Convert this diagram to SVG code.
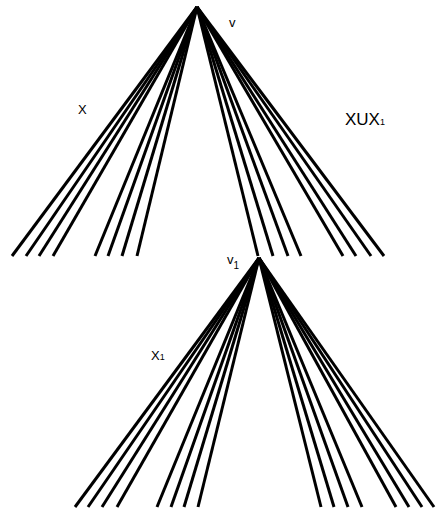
<svg xmlns="http://www.w3.org/2000/svg" width="442" height="511" viewBox="0 0 442 511">
<style>
.e{stroke:#000;stroke-width:3;stroke-linecap:butt;fill:none}
.t{font-family:"Liberation Sans",Arial,sans-serif;fill:#000}
</style>
<rect width="442" height="511" fill="#fff"/>
<g id="connectors">
<g id="top-tree">
<line class="e" x1="197" y1="7" x2="12" y2="256"/>
<line class="e" x1="197" y1="7" x2="26" y2="256"/>
<line class="e" x1="197" y1="7" x2="39" y2="256"/>
<line class="e" x1="197" y1="7" x2="53" y2="256"/>
<line class="e" x1="197" y1="7" x2="95" y2="256"/>
<line class="e" x1="197" y1="7" x2="108" y2="256"/>
<line class="e" x1="197" y1="7" x2="122" y2="256"/>
<line class="e" x1="197" y1="7" x2="137" y2="256"/>
<line class="e" x1="197" y1="7" x2="258" y2="256"/>
<line class="e" x1="197" y1="7" x2="273" y2="256"/>
<line class="e" x1="197" y1="7" x2="288" y2="256"/>
<line class="e" x1="197" y1="7" x2="301" y2="256"/>
<line class="e" x1="197" y1="7" x2="343" y2="256"/>
<line class="e" x1="197" y1="7" x2="356" y2="256"/>
<line class="e" x1="197" y1="7" x2="371" y2="256"/>
<line class="e" x1="197" y1="7" x2="384" y2="256"/>
</g>
<g id="bottom-tree">
<line class="e" x1="259" y1="258" x2="75" y2="507"/>
<line class="e" x1="259" y1="258" x2="88" y2="507"/>
<line class="e" x1="259" y1="258" x2="102" y2="507"/>
<line class="e" x1="259" y1="258" x2="117" y2="507"/>
<line class="e" x1="259" y1="258" x2="157" y2="507"/>
<line class="e" x1="259" y1="258" x2="171" y2="507"/>
<line class="e" x1="259" y1="258" x2="184" y2="507"/>
<line class="e" x1="259" y1="258" x2="198" y2="507"/>
<line class="e" x1="259" y1="258" x2="321" y2="507"/>
<line class="e" x1="259" y1="258" x2="334" y2="507"/>
<line class="e" x1="259" y1="258" x2="348" y2="507"/>
<line class="e" x1="259" y1="258" x2="362" y2="507"/>
<line class="e" x1="259" y1="258" x2="396" y2="507"/>
<line class="e" x1="259" y1="258" x2="409" y2="507"/>
<line class="e" x1="259" y1="258" x2="422" y2="507"/>
<line class="e" x1="259" y1="258" x2="434" y2="507"/>
</g>
</g>
<g id="v"><text class="t" x="229" y="27" font-size="13">v</text></g>
<g id="X"><text class="t" x="78" y="114" font-size="13">X</text></g>
<g id="XUX1"><text class="t" x="345" y="125" font-size="17">XUX<tspan font-size="9" dy="0">1</tspan></text></g>
<g id="v1"><text class="t" x="227" y="264" font-size="13">v<tspan font-size="10" dy="5">1</tspan></text></g>
<g id="X1"><text class="t" x="151" y="360" font-size="13">X<tspan font-size="9">1</tspan></text></g>
</svg>
